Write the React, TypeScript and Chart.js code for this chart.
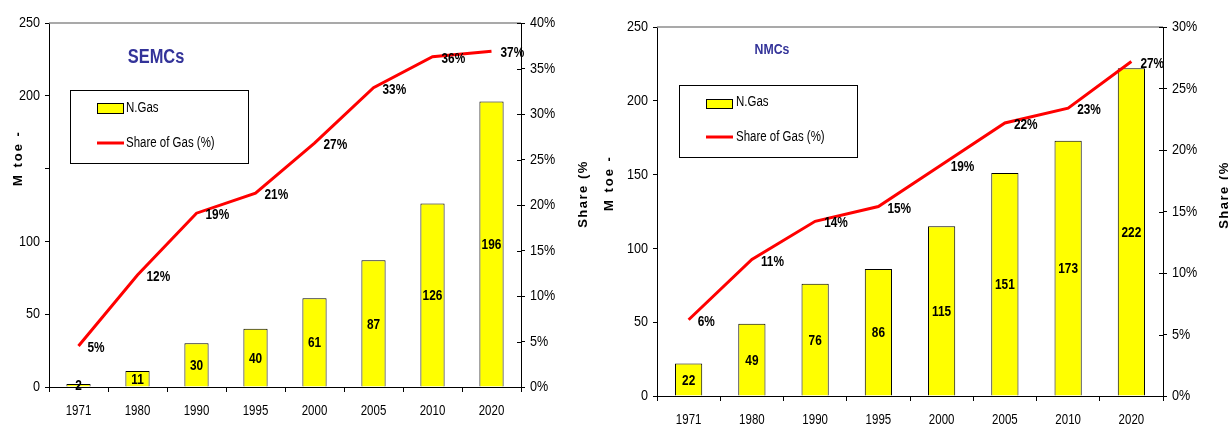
import React, { useEffect, useRef } from 'react';
import { Chart, registerables } from 'chart.js';

Chart.register(...registerables);

// ---- data ----
const years = ['1971', '1980', '1990', '1995', '2000', '2005', '2010', '2020'];
const semcGas = [2, 11, 30, 40, 61, 87, 126, 196];
const semcShare = [4.5, 12.3, 19.1, 21.3, 26.8, 32.9, 36.3, 36.9];
const nmcGas = [22, 49, 76, 86, 115, 151, 173, 222];
const nmcShare = [6.2, 11.1, 14.2, 15.4, 18.8, 22.2, 23.4, 27.2];
const gasLabel = 'N.Gas';
const shareLabel = 'Share of Gas (%)';
const yTitle = 'M toe -';
const y1Title = 'Share (%';
const gasMax = 250;
const gasStep = 50;
const shareStep = 5;

const FONT = "'Liberation Sans', Arial, sans-serif";
const NARROW = 0.82;

type Cfg = {
  title: string;
  titleSize: number;
  titleX: number;
  titleY: number;
  gas: number[];
  share: number[];
  shareMax: number;
  hide: number[];
  W: number;
  H: number;
  left: number;
  top: number;
  right: number;
  bottom: number;
  barPct: number;
  box: [number, number, number, number];
  sx: number;
  sy: [number, number];
  lineY: number;
  textX: number;
  gasTextY: number;
  yT: [number, number];
  y1T: [number, number];
};

function narrowText(ctx: CanvasRenderingContext2D, text: string, x: number, y: number, k = NARROW) {
  ctx.save();
  ctx.translate(x, y);
  ctx.scale(k, 1);
  ctx.fillText(text, 0, 0);
  ctx.restore();
}

const overlay = {
  id: 'overlay',
  afterDatasetsDraw(chart: any, _args: any, opts: any) {
    const c: Cfg = opts.cfg;
    const ctx = chart.ctx as CanvasRenderingContext2D;
    const ca = chart.chartArea;
    ctx.save();
    // top border line
    ctx.strokeStyle = '#8c8c8c';
    ctx.lineWidth = 1.5;
    ctx.beginPath();
    ctx.moveTo(ca.left, ca.top);
    ctx.lineTo(ca.right, ca.top);
    ctx.stroke();
    // inward ticks on right axis
    const y1 = chart.scales.y1;
    ctx.strokeStyle = '#000';
    ctx.lineWidth = 1;
    y1.ticks.forEach((_t: any, i: number) => {
      const py = Math.round(y1.getPixelForTick(i)) + 0.5;
      ctx.beginPath();
      ctx.moveTo(ca.right - 4, py);
      ctx.lineTo(ca.right, py);
      ctx.stroke();
    });
    // bar labels
    ctx.fillStyle = '#000';
    ctx.font = `bold 15px ${FONT}`;
    ctx.textAlign = 'center';
    ctx.textBaseline = 'middle';
    const barMeta = chart.getDatasetMeta(0);
    barMeta.data.forEach((el: any, i: number) => {
      const p = el.getProps(['x', 'y', 'base'], true);
      narrowText(ctx, String(c.gas[i]), p.x, (p.y + p.base) / 2 + 1, 0.79);
    });
    // line labels
    ctx.textAlign = 'left';
    const lineMeta = chart.getDatasetMeta(1);
    lineMeta.data.forEach((el: any, i: number) => {
      narrowText(ctx, Math.round(c.share[i]) + '%', el.x + 9, el.y + 2, 0.79);
    });
    ctx.restore();
  },
  afterDraw(chart: any, _args: any, opts: any) {
    const c: Cfg = opts.cfg;
    const ctx = chart.ctx as CanvasRenderingContext2D;
    const ca = chart.chartArea;
    ctx.save();
    // axis tick labels (narrow), positioned from the library's scales
    ctx.fillStyle = '#000';
    ctx.textBaseline = 'middle';
    ctx.font = `14px ${FONT}`;
    const sx = chart.scales.x;
    ctx.textAlign = 'center';
    sx.ticks.forEach((t: any, i: number) => {
      if (t.label) narrowText(ctx, String(t.label), sx.getPixelForTick(i), ca.bottom + 24);
    });
    ctx.font = `15px ${FONT}`;
    const sy = chart.scales.y;
    ctx.textAlign = 'right';
    sy.ticks.forEach((t: any, i: number) => {
      if (t.label) narrowText(ctx, String(t.label), ca.left - 9, sy.getPixelForTick(i), 0.84);
    });
    const sy1 = chart.scales.y1;
    ctx.textAlign = 'left';
    sy1.ticks.forEach((t: any, i: number) => {
      if (t.label) narrowText(ctx, String(t.label), ca.right + 9, sy1.getPixelForTick(i), 0.84);
    });
    // title
    ctx.fillStyle = '#333399';
    ctx.font = `bold ${c.titleSize}px ${FONT}`;
    ctx.textAlign = 'center';
    narrowText(ctx, c.title, c.titleX, c.titleY);
    // legend box
    const [bx, by, bw, bh] = c.box;
    ctx.fillStyle = '#fff';
    ctx.fillRect(bx, by, bw, bh);
    ctx.strokeStyle = '#000';
    ctx.lineWidth = 1;
    ctx.strokeRect(bx + 0.5, by + 0.5, bw, bh);
    ctx.fillStyle = '#FFFF00';
    ctx.fillRect(c.sx, c.sy[0], 26, c.sy[1] - c.sy[0]);
    ctx.strokeRect(c.sx + 0.5, c.sy[0] + 0.5, 26, c.sy[1] - c.sy[0]);
    ctx.strokeStyle = '#FF0000';
    ctx.lineWidth = 3;
    ctx.beginPath();
    ctx.moveTo(c.sx, c.lineY);
    ctx.lineTo(c.sx + 27, c.lineY);
    ctx.stroke();
    ctx.fillStyle = '#000';
    ctx.font = `14px ${FONT}`;
    ctx.textAlign = 'left';
    narrowText(ctx, gasLabel, c.textX, c.gasTextY);
    narrowText(ctx, shareLabel, c.textX, c.lineY);
    // axis titles
    ctx.font = `bold 13px ${FONT}`;
    (ctx as any).letterSpacing = '2px';
    ctx.textAlign = 'center';
    ctx.save();
    ctx.translate(c.yT[0], c.yT[1]);
    ctx.rotate(-Math.PI / 2);
    ctx.fillText(yTitle, 0, 0);
    ctx.restore();
    (ctx as any).letterSpacing = '1.5px';
    ctx.save();
    ctx.translate(c.y1T[0], c.y1T[1]);
    ctx.rotate(-Math.PI / 2);
    ctx.fillText(y1Title, 0, 0);
    ctx.restore();
    ctx.restore();
  },
};

function GasChart({ cfg, x }: { cfg: Cfg; x: number }) {
  const ref = useRef<HTMLCanvasElement>(null);
  useEffect(() => {
    if (!ref.current) return;
    const tickFont = { family: FONT, size: 13 };
    const hidden = 'rgba(0,0,0,0)';
    const chart = new Chart(ref.current, {
      data: {
        labels: years,
        datasets: [
          {
            type: 'bar',
            label: gasLabel,
            data: cfg.gas,
            backgroundColor: '#FFFF00',
            borderColor: '#000',
            borderWidth: 1,
            barPercentage: cfg.barPct,
            categoryPercentage: 1,
            yAxisID: 'y',
            order: 2,
          },
          {
            type: 'line',
            label: shareLabel,
            data: cfg.share,
            borderColor: '#FF0000',
            borderWidth: 3,
            pointRadius: 0,
            tension: 0,
            fill: false,
            yAxisID: 'y1',
            order: 1,
          },
        ],
      } as any,
      options: {
        animation: false,
        responsive: false,
        devicePixelRatio: 1,
        layout: { padding: { top: cfg.top, left: 0, right: 0, bottom: 0 } },
        plugins: {
          legend: { display: false },
          tooltip: { enabled: false },
          overlay: { cfg },
        } as any,
        scales: {
          x: {
            offset: true,
            grid: { offset: true, drawOnChartArea: false, tickLength: 5, color: '#000' },
            border: { color: '#000', width: 1 },
            ticks: { font: tickFont, color: hidden, padding: 12, maxRotation: 0, autoSkip: false },
            afterFit: (s: any) => {
              s.height = cfg.H - cfg.bottom;
            },
          },
          y: {
            position: 'left',
            min: 0,
            max: gasMax,
            grid: { drawOnChartArea: false, tickLength: 4, color: '#000' },
            border: { color: '#000', width: 1 },
            ticks: {
              stepSize: gasStep,
              font: tickFont,
              color: hidden,
              padding: 5,
              callback: (v: any) => (cfg.hide.includes(Number(v)) ? '' : String(v)),
            },
            afterFit: (s: any) => {
              s.width = cfg.left;
            },
          },
          y1: {
            position: 'right',
            min: 0,
            max: cfg.shareMax,
            grid: { drawOnChartArea: false, tickLength: 4, color: '#000' },
            border: { color: '#000', width: 1 },
            ticks: {
              stepSize: shareStep,
              font: tickFont,
              color: hidden,
              padding: 5,
              callback: (v: any) => v + '%',
            },
            afterFit: (s: any) => {
              s.width = cfg.W - cfg.right;
            },
          },
        },
      } as any,
      plugins: [overlay],
    });
    return () => chart.destroy();
  }, [cfg]);
  return (
    <canvas
      ref={ref}
      width={cfg.W}
      height={cfg.H}
      style={{ position: 'absolute', left: x, top: 0, width: cfg.W, height: cfg.H }}
    />
  );
}

const semcCfg: Cfg = {
  title: 'SEMCs',
  titleSize: 20,
  titleX: 156,
  titleY: 57,
  gas: semcGas,
  share: semcShare,
  shareMax: 40,
  hide: [150],
  W: 600,
  H: 426,
  left: 49,
  top: 23,
  right: 521,
  bottom: 387,
  barPct: 0.41,
  box: [70, 90, 178, 73],
  sx: 97,
  sy: [103, 113],
  lineY: 143,
  textX: 126,
  gasTextY: 108,
  yT: [18, 158],
  y1T: [583, 194],
};

const nmcCfg: Cfg = {
  title: 'NMCs',
  titleSize: 15,
  titleX: 172,
  titleY: 50,
  gas: nmcGas,
  share: nmcShare,
  shareMax: 30,
  hide: [],
  W: 628,
  H: 426,
  left: 57,
  top: 27,
  right: 563,
  bottom: 396,
  barPct: 0.43,
  box: [79, 85, 178, 72],
  sx: 106,
  sy: [99, 108],
  lineY: 137,
  textX: 136,
  gasTextY: 102,
  yT: [9, 183],
  y1T: [624, 195],
};

export default function App() {
  return (
    <div style={{ position: 'absolute', left: 0, top: 0, width: 1228, height: 426, background: '#fff' }}>
      <GasChart cfg={semcCfg} x={0} />
      <GasChart cfg={nmcCfg} x={600} />
    </div>
  );
}
